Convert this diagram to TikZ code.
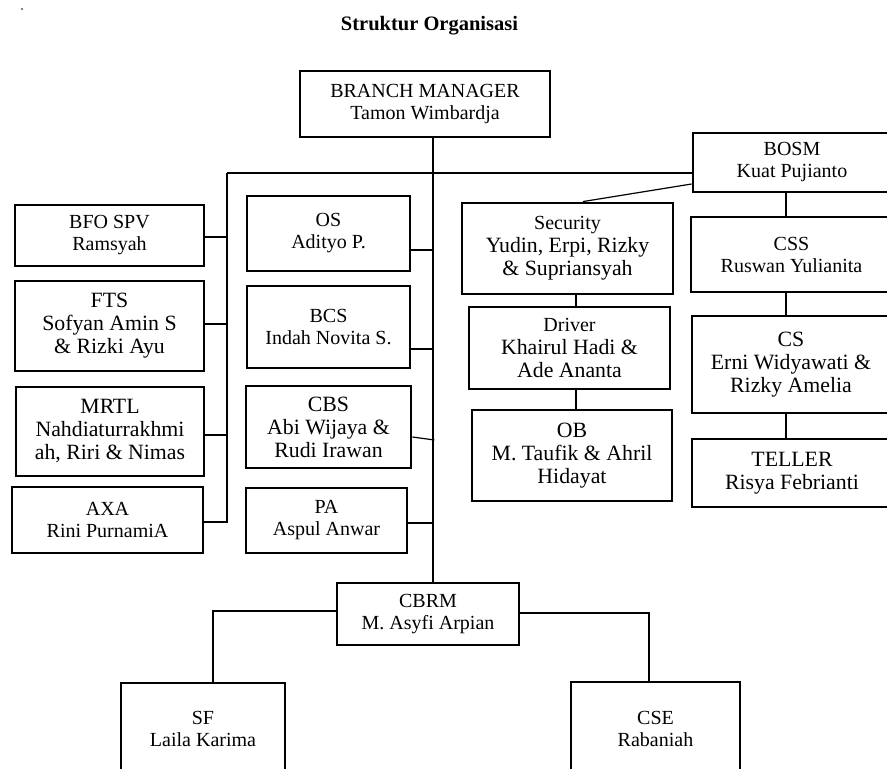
\documentclass[tikz,border=0pt]{standalone}
\usepackage{fontspec}
\setmainfont{Liberation Serif}
\usetikzlibrary{calc}
\newcommand\fsA{\fontsize{20}{22}\selectfont}
\newcommand\fsB{\fontsize{21.8}{23}\selectfont}
\newcommand\orgbox[7]{\node[box,font=#7,minimum width={#4-#2},minimum height={#5-#3}] (#1) at ({(#2+#4)/2},{(#3+#5)/2}) {#6};}
\tikzset{
  box/.style={draw, line width=2.9pt, align=center, inner sep=0pt},
  conn/.style={line width=1.2pt}
}
\begin{document}
\begin{tikzpicture}[x=1pt,y=-1pt]
\useasboundingbox (0,0) rectangle (887,769);
\fill (22,9) circle (0.9);
\node[anchor=base,font=\bfseries\fontsize{20.5}{22}\selectfont] (title) at (429.5,30) {Struktur Organisasi};
\orgbox{BM}{300}{71}{550}{137}{BRANCH MANAGER\\Tamon Wimbardja}{\fsA}
\orgbox{BOSM}{693}{133}{891}{192}{BOSM\\Kuat Pujianto}{\fsA}
\orgbox{BFO}{15}{205}{204}{266}{BFO SPV\\Ramsyah}{\fsA}
\orgbox{FTS}{15}{281}{204}{371}{FTS\\Sofyan Amin S\\\& Rizki Ayu}{\fsB}
\orgbox{MRTL}{16}{387}{204}{476}{MRTL\\Nahdiaturrakhmi\\ah, Riri \& Nimas}{\fsB}
\orgbox{AXA}{12}{487}{203}{553}{AXA\\Rini PurnamiA}{\fsA}
\orgbox{OS}{247}{196}{410}{271}{OS\\Adityo P.}{\fsA}
\orgbox{BCS}{247}{286}{410}{368}{BCS\\Indah Novita S.}{\fsA}
\orgbox{CBS}{246}{386}{411}{468}{CBS\\Abi Wijaya \&\\Rudi Irawan}{\fsB}
\orgbox{PA}{246}{488}{407}{553}{PA\\Aspul Anwar}{\fsA}
\orgbox{SEC}{462}{203}{673}{294}{{\fsA Security}\\Yudin, Erpi, Rizky\\\& Supriansyah}{\fsB}
\orgbox{DRV}{469}{307}{670}{389}{{\fsA Driver}\\Khairul Hadi \&\\Ade Ananta}{\fsB}
\orgbox{OB}{472}{410}{672}{501}{OB\\M. Taufik \& Ahril\\Hidayat}{\fsB}
\orgbox{CSS}{691}{217}{892}{292}{CSS\\Ruswan Yulianita}{\fsA}
\orgbox{CS}{692}{316}{890}{413}{CS\\Erni Widyawati \&\\Rizky Amelia}{\fsB}
\orgbox{TEL}{692}{439}{892}{507}{TELLER\\Risya Febrianti}{\fsB}
\orgbox{CBRM}{337}{583}{519}{645}{CBRM\\M. Asyfi Arpian}{\fsA}
\orgbox{SF}{121}{683}{285}{774}{SF\\Laila Karima}{\fsA}
\orgbox{CSE}{571}{682}{740}{775}{CSE\\Rabaniah}{\fsA}
% x positions of connectors
\coordinate (tx) at (433,0);
\coordinate (lx) at (227,173);
\coordinate (sx) at (576,0);
\coordinate (rx) at (786,0);
\coordinate (sfx) at (213,0);
\coordinate (csx) at (649,0);
% stub start points
\coordinate (pBFO) at ($(BFO.east)+(0,1.5)$);
\coordinate (pFTS) at ($(FTS.east)+(0,-2)$);
\coordinate (pMRTL) at ($(MRTL.east)+(0,3.5)$);
\coordinate (pAXA) at ($(AXA.east)+(0,2)$);
\coordinate (pOS) at ($(OS.east)+(0,16.5)$);
\coordinate (pBCS) at ($(BCS.east)+(0,22)$);
\coordinate (pCBS) at ($(CBS.east)+(0,10)$);
\coordinate (qCBS) at ($(CBS.east)+(22,13)$);
\coordinate (pPA) at ($(PA.east)+(0,2.5)$);
\coordinate (pBOSM) at ($(BOSM.west)+(0,21.5)$);
\coordinate (pSEC) at ($(SEC.north)+(15.5,0)$);
\coordinate (pCBw) at ($(CBRM.west)+(0,-3)$);
\coordinate (pCBe) at ($(CBRM.east)+(0,-1)$);
% main trunk
\draw[conn] (BM.south -| tx) -- (CBRM.north -| tx);
% top horizontal to BOSM and left branch
\draw[conn] (lx) -- (lx -| BOSM.west);
\draw[conn] (lx) |- (pAXA);
\draw[conn] (pBFO) -- (pBFO -| lx);
\draw[conn] (pFTS) -- (pFTS -| lx);
\draw[conn] (pMRTL) -- (pMRTL -| lx);
% middle stubs
\draw[conn] (pOS) -- (pOS -| tx);
\draw[conn] (pBCS) -- (pBCS -| tx);
\draw[conn] (pCBS) -- (qCBS);
\draw[conn] (pPA) -- (pPA -| tx);
% BOSM branch
\draw[conn] (pBOSM) -- (pSEC);
\draw[conn] (SEC.south -| sx) -- (DRV.north -| sx);
\draw[conn] (DRV.south -| sx) -- (OB.north -| sx);
\draw[conn] (BOSM.south -| rx) -- (CSS.north -| rx);
\draw[conn] (CSS.south -| rx) -- (CS.north -| rx);
\draw[conn] (CS.south -| rx) -- (TEL.north -| rx);
% CBRM branch
\draw[conn] (pCBw) -| (SF.north -| sfx);
\draw[conn] (pCBe) -| (CSE.north -| csx);
\end{tikzpicture}
\end{document}
